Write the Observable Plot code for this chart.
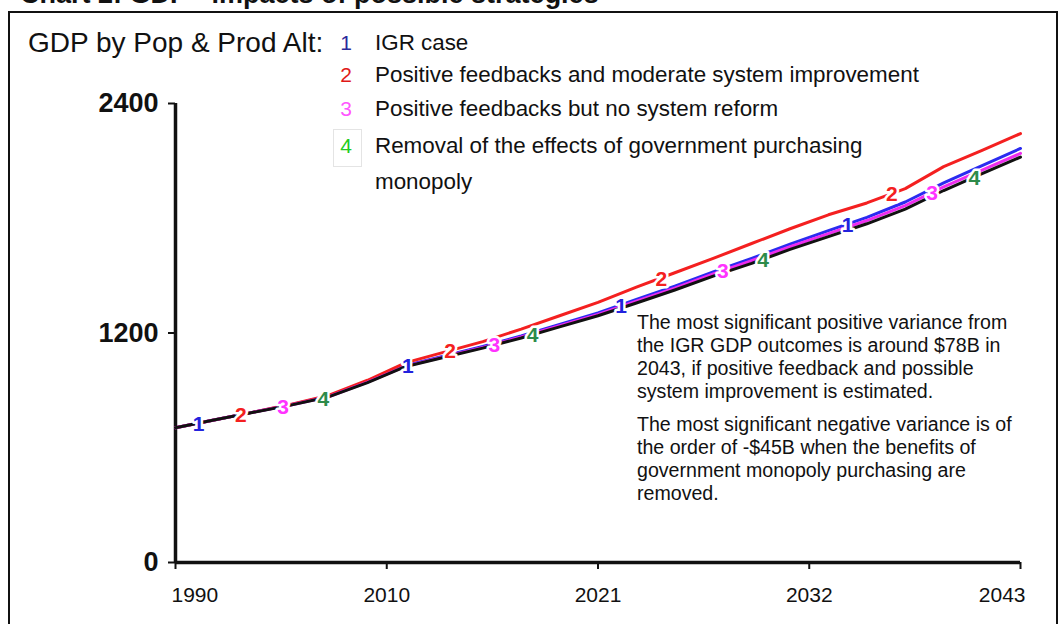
<!DOCTYPE html>
<html>
<head>
<meta charset="utf-8">
<script src="https://cdn.jsdelivr.net/npm/d3@7"></script>
<script src="https://cdn.jsdelivr.net/npm/@observablehq/plot@0.6"></script>
<style>
  html, body { margin: 0; padding: 0; background: #fff; }
  body { width: 1063px; height: 624px; overflow: hidden; font-family: "Liberation Sans", Arial, sans-serif; }
  #wrap { position: relative; width: 1063px; height: 624px; }
  #wrap svg { position: absolute; left: 0; top: 0; }
  .abs { position: absolute; white-space: nowrap; color: #111; }
  #frame { position: absolute; left: 8px; top: 11px; width: 1050px; height: 640px; border: 2px solid #111; box-sizing: border-box; }
  #title { left: 20px; top: -19px; font-size: 27px; line-height: 27px; font-weight: bold; }
  #head { left: 28px; top: 29px; font-size: 28px; line-height: 28px; }
  .lnum { position: absolute; left: 337px; width: 18px; text-align: center; font-size: 21px; line-height: 21px; }
  .ltxt { position: absolute; left: 375px; font-size: 22.4px; line-height: 22px; color: #111; white-space: nowrap; }
  #box4 { position: absolute; left: 333px; top: 129px; width: 27px; height: 36px; border: 1px solid #e4e4e4; }
  #note { position: absolute; left: 637px; top: 311px; font-size: 19.6px; line-height: 23px; color: #111; white-space: nowrap; }
  #note p { margin: 0 0 10px 0; }
</style>
</head>
<body>
<div id="wrap"></div>
<script>
// ---- data ----
const years = [1999, 2001, 2003, 2005, 2007, 2009, 2011, 2013, 2015, 2017, 2019, 2021,
               2023, 2025, 2027, 2029, 2031, 2033, 2035, 2037, 2039, 2041, 2043];
const igrCase          = [705, 745, 785, 825, 870, 945, 1030, 1080, 1130, 1185, 1245, 1305,
                          1375, 1445, 1520, 1590, 1665, 1735, 1805, 1885, 1985, 2075, 2165];
const posFeedImprove   = [705, 745, 785, 827, 875, 953, 1045, 1100, 1155, 1220, 1290, 1360,
                          1440, 1515, 1590, 1668, 1745, 1818, 1880, 1955, 2070, 2155, 2243];
const posFeedNoReform  = [705, 745, 785, 824, 868, 943, 1027, 1076, 1125, 1179, 1238, 1297,
                          1366, 1435, 1509, 1578, 1651, 1720, 1788, 1866, 1964, 2052, 2139];
const noGovPurchasing  = [705, 745, 784, 823, 867, 941, 1025, 1073, 1121, 1174, 1232, 1290,
                          1357, 1425, 1497, 1564, 1637, 1704, 1771, 1848, 1945, 2033, 2120];

const seriesNames  = ["IGR case",
                      "Positive feedbacks and moderate system improvement",
                      "Positive feedbacks but no system reform",
                      "Removal of the effects of government purchasing monopoly"];
const seriesIds    = ["1", "2", "3", "4"];
const lineColors   = ["#2b2bf0", "#f42020", "#ee2cee", "#111111"];
const numColors    = ["#2222dd", "#f42020", "#ff33ff", "#2e8b4a"];
const legendNumColors = ["#2a2a9a", "#e01818", "#ff55ff", "#22cc22"];

// positions (years) of the numbered markers drawn along each line
const markerYears = [
  [2000.2, 2011.1, 2022.2, 2034.0],
  [2002.4, 2013.3, 2024.3, 2036.3],
  [2004.6, 2015.6, 2027.5, 2038.4],
  [2006.7, 2017.6, 2029.6, 2040.6]
];

const yTicks = [0, 1200, 2400];
const xTickYears  = [1999, 2010, 2021, 2032, 2043];
const xTickLabels = ["1990", "2010", "2021", "2032", "2043"];

const chartTitle = "Chart 2: GDP - impacts of possible strategies";
const headLabel  = "GDP by Pop & Prod Alt:";
const noteParas = [
  ["The most significant positive variance from",
   "the IGR GDP outcomes is around $78B in",
   "2043, if positive feedback and possible",
   "system improvement is estimated."],
  ["The most significant negative variance is of",
   "the order of -$45B when the benefits of",
   "government monopoly purchasing are",
   "removed."]
];

// ---- build tables ----
const valueSets = [igrCase, posFeedImprove, posFeedNoReform, noGovPurchasing];
const rows = [];
valueSets.forEach((vals, i) => years.forEach((yr, j) => rows.push({id: seriesIds[i], i, year: yr, value: vals[j]})));

function valueAt(vals, yr) {
  const k = d3.bisectRight(years, yr) - 1;
  const k0 = Math.max(0, Math.min(years.length - 2, k));
  const t = (yr - years[k0]) / (years[k0 + 1] - years[k0]);
  return vals[k0] + t * (vals[k0 + 1] - vals[k0]);
}
const markers = [];
markerYears.forEach((ys, i) => ys.forEach(yr => markers.push({id: seriesIds[i], i, year: yr, value: valueAt(valueSets[i], yr)})));

const xt = xTickYears.map((y, k) => ({year: y, label: xTickLabels[k]}));
const font = '"Liberation Sans", Arial, sans-serif';

const chart = Plot.plot({
  width: 1063,
  height: 624,
  marginLeft: 175,
  marginRight: 43,
  marginTop: 103,
  marginBottom: 62,
  style: {background: "transparent", fontFamily: font, color: "#111"},
  x: {domain: [1999, 2043]},
  y: {domain: [0, 2400]},
  marks: [
    Plot.axisY({ticks: yTicks, tickSize: 7, tickPadding: 10, fontSize: 27, fontWeight: "bold",
                tickFormat: d => String(d), label: null, stroke: "#111", strokeWidth: 2}),
    Plot.axisX({ticks: xTickYears, tickSize: 7, tickFormat: () => "", label: null, stroke: "#111", strokeWidth: 2}),
    Plot.text(xt.slice(0, 1), {x: "year", y: () => 0, text: "label", dy: 33, dx: -4, textAnchor: "start", fontSize: 21, fill: "#111"}),
    Plot.text(xt.slice(1, -1), {x: "year", y: () => 0, text: "label", dy: 33, textAnchor: "middle", fontSize: 21, fill: "#111"}),
    Plot.text(xt.slice(-1), {x: "year", y: () => 0, text: "label", dy: 33, dx: 5, textAnchor: "end", fontSize: 21, fill: "#111"}),
    Plot.ruleY([0], {stroke: "#111", strokeWidth: 3.5}),
    Plot.ruleX([1999], {stroke: "#111", strokeWidth: 3.5}),
    Plot.line(rows, {x: "year", y: "value", z: "id", stroke: d => lineColors[d.i], strokeWidth: 3, curve: "linear"}),
    Plot.text(markers, {x: "year", y: "value", text: "id", fill: d => numColors[d.i],
                        stroke: "white", strokeWidth: 5, fontSize: 21, fontWeight: "bold", dy: 1})
  ]
});

const wrap = document.getElementById("wrap");
const frame = document.createElement("div"); frame.id = "frame"; wrap.appendChild(frame);
wrap.appendChild(chart);

function addDiv(id, cls, text, style) {
  const d = document.createElement("div");
  if (id) d.id = id;
  if (cls) d.className = cls;
  d.textContent = text;
  if (style) Object.assign(d.style, style);
  wrap.appendChild(d);
  return d;
}
addDiv("title", "abs", chartTitle);
addDiv("head", "abs", headLabel);

const box = document.createElement("div"); box.id = "box4"; wrap.appendChild(box);
const legendTops = [32, 64, 98, 135];
seriesIds.forEach((id, i) => {
  addDiv(null, "lnum", id, {top: legendTops[i] + "px", color: legendNumColors[i]});
});
addDiv(null, "ltxt", seriesNames[0], {top: legendTops[0] + "px"});
addDiv(null, "ltxt", seriesNames[1], {top: legendTops[1] + "px"});
addDiv(null, "ltxt", seriesNames[2], {top: legendTops[2] + "px"});
const l4 = addDiv(null, "ltxt", seriesNames[3], {top: legendTops[3] + "px", whiteSpace: "normal", width: "500px", lineHeight: "36px", marginTop: "-7px"});

const note = document.createElement("div"); note.id = "note";
noteParas.forEach(lines => {
  const p = document.createElement("p");
  lines.forEach((ln, k) => { if (k) p.appendChild(document.createElement("br")); p.appendChild(document.createTextNode(ln)); });
  note.appendChild(p);
});
wrap.appendChild(note);
</script>
</body>
</html>
